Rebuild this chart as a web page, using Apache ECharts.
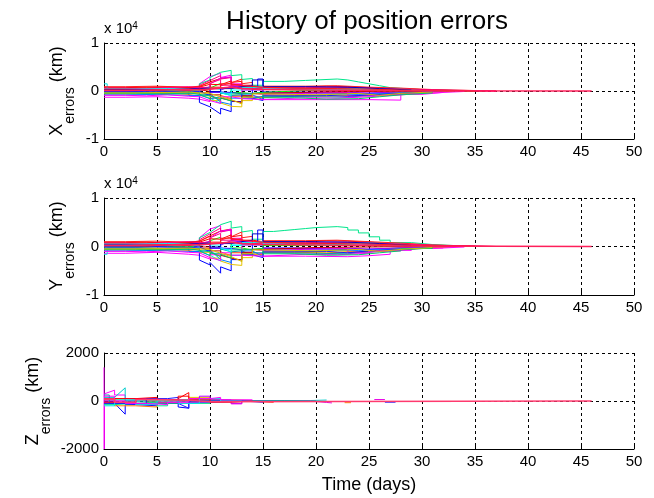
<!DOCTYPE html>
<html><head><meta charset="utf-8">
<script src="https://cdn.jsdelivr.net/npm/echarts@6/dist/echarts.min.js"></script>
<style>html,body{margin:0;padding:0;background:#fff}#c{width:654px;height:498px}</style>
</head><body><div id="c"></div>
<script>
// ---- data: each series = list of [day, value] (flat) or [day, v0, v1] (linear) segments; last entry [endDay]
const titleText = 'History of position errors';
const xTicks = [0, 5, 10, 15, 20, 25, 30, 35, 40, 45, 50];
const errTicks = [-10000, 0, 10000];   // shown as -1, 0, 1 (x 10^4)
const zTicks = [-2000, 0, 2000];
const yLabels = [['X', 'errors', ' (km)'], ['Y', 'errors', ' (km)'], ['Z', 'errors', ' (km)']];

const X01 = [[0,700],[2,800],[4,900],[6,700],[8,900],[9,1200,1900],[10,1900,2600],[11,2300,2900],[12,1800,2000],[13,1200],[14,900],[15,800],[18,1000],[21,900],[23,700],[25,500],[27,300],[30,100],[33,0],[37]];
const X02 = [[0,500],[3,600],[5,500],[7,400],[8,600],[9,1500,3000],[10,3000,3700],[11,2800,3300],[12,1500],[13,900],[15,300],[20,400],[24,200],[28,0],[35]];
const X03 = [[0,-1300],[2,-1200],[5,-1500],[8,-1700],[9,-1900,-2200],[10,-1500],[12,-1000],[14,-1300],[15,-1800],[25,-1900],[28,-700],[30,-300],[32]];
const X04 = [[0,200],[4,300],[8,700],[9,1500,2300],[10,2800,3900],[11,3800,4300],[12,3200,3400],[13,2400,2600],[14,1200],[15,2000],[17,2200],[19,2500],[22,2300],[23,1900],[24,1500],[25,1100],[26,700],[27,400],[29,200],[31,0],[34]];
const X05 = [[0,-400],[3,-500],[6,-300],[8,-900],[9,-2400,-3300],[10,-3000,-4800],[11,-3600,-4300],[12,-2200],[13,-1200],[14,500],[14.5,2500],[15,-200],[18,-400],[21,-600],[24,-300],[27,-100],[30,0],[33]];
const X06 = [[0,1500],[0.3,300],[3,200],[6,100],[8,-200],[9,-800,-1500],[10,-1200,-2600],[11,-500],[12,600],[13,400],[15,300],[18,100],[22,200],[25,400],[28,200],[31,0],[36]];
const X07 = [[0,-200],[4,-300],[8,-500],[9,-1000],[10,-2000],[11,-2500,-3200],[12,-3000,-3300],[13,-2000],[14,-1500],[15,-900],[19,-800],[22,-1000],[24,-900],[26,-400],[29,-100],[32]];
const X08 = [[0,300],[3,400],[6,200],[8,300],[9,1200,2200],[10,2000,3200],[11,2500,2800],[12,1000],[14,600],[16,500],[20,600],[23,400],[26,200],[29,100],[32,0],[37]];
const X09 = [[0,-600],[3,-500],[6,-700],[8,-400],[9,-300],[10,-1000,-1600],[11,-900,-1600],[12,-1100],[13,-1400],[15,-1000],[18,-1100],[21,-900],[24,-700],[27,-300],[30,-100],[33]];
const X10 = [[0,0],[3,-100],[6,100],[8,0],[9,400,900],[10,-300],[11,200,1000],[12,800],[13,200],[15,-300],[18,-200],[22,-400],[25,-200],[28,0],[32]];
const X11 = [[0,-800],[2,-700],[5,-900],[8,-1000],[9,-600],[10,-500,-2300],[11,-2000,-2800],[12,-1500],[13,-800],[14,-1000,-1800],[15,-600],[20,-700],[24,-500],[27,-200],[30]];
const X12 = [[0,100],[3,0],[6,-100],[8,200],[9,600],[10,1000,1600],[11,700],[12,-300],[13,-600],[14,-300],[15,100],[19,200],[23,0],[27,100],[31,0],[35]];
const X13 = [[0,900],[2,1000],[5,800],[8,1000],[9,1000,1800],[10,600],[11,1100,1700],[12,2000,2500],[13,1500,1800],[14,400],[15,1000],[19,1100],[22,800],[25,600],[28,300],[31,100],[35]];
const X14 = [[0,-300],[3,-400],[6,-500],[8,-300],[9,-800,-1600],[10,-1200],[11,-400,-900],[12,-800],[13,-900,-1500],[14,-1100],[15,-1200],[20,-1300],[23,-900],[25,-600],[28,-300],[31]];
const X15 = [[0,200],[4,400],[8,500],[9,800],[10,1500,2700],[11,2600,2900],[12,1200],[13,-500],[14,-700],[15,-500],[19,-300],[23,-1000],[25,-700],[28,-300],[30]];
const X16 = [[0,400],[3,300],[6,500],[8,300],[9,-100],[10,-800],[11,-1500,-2000],[12,-1800,-2400],[13,-1000],[14,-500],[15,-200],[20,-100],[25,0],[30]];
const X17 = [[0,-100],[3,0],[5,-200],[8,-100],[9,-300,-900],[10,-200],[11,-300],[12,-600],[13,-1500],[14,-1700,-2000],[15,-1000],[18,-900],[21,-1100],[23,-800],[25,-500],[28,-200],[31]];
const X19 = [[0,500],[1,600],[3,700],[5,600],[7,800],[9,900,1400],[10,1300],[11,1500,2100],[12,1300],[13,700],[15,500],[19,600],[22,500],[25,300],[28,100],[31,0],[36]];
const X20 = [[0,-900],[2,-1000],[4,-800],[6,-1100],[8,-1200],[9,-1500,-2000],[10,-1800,-2600],[11,-1200],[12,-1600],[13,-1800],[15,-1400],[19,-1500],[22,-1200],[25,-800],[28,-400],[31,-100],[34]];
const X21 = [[0,600],[2,500],[4,700],[6,900],[8,700],[9,800],[10,1600,2400],[11,1200],[12,900,1400],[13,600],[15,700],[19,800],[22,600],[25,400],[28,200],[32,0],[37]];
const X22 = [[0,-500],[3,-600],[6,-400],[8,-700],[9,-1000],[10,-1200,-1900],[11,-1400,-2100],[12,-600],[13,-300],[15,-1400],[18,-1700],[21,-1600],[24,-1200],[26,-800],[28,-400],[31]];
const X23 = [[0,400],[3,500],[6,400],[8,100],[9,100,700],[10,300],[11,-300,-1000],[12,200],[13,700],[14,900],[15,400],[20,500],[24,300],[27,100],[30]];
const X24 = [[0,300],[2,200],[5,400],[8,500],[9,600],[10,-100],[11,500],[12,900],[13,1100],[14,2300],[15,900],[19,800],[23,500],[26,200],[29]];
const X25 = [[0,-400],[3,-300],[6,-200],[8,-400],[9,-500],[10,-700,-1200],[11,-1300,-1800],[12,-1900,-2700],[13,-1300],[14,-600],[15,-800],[20,-500],[24,-900],[26,-500],[28,-200],[31]];
const X26 = [[0,200],[2,100],[4,300],[6,200],[8,400],[9,300],[10,800],[11,1500],[12,1100],[13,800],[15,600],[18,500],[22,400],[25,200],[28,100],[31,0],[35]];
const X18 = [[0,100],[2,200],[5,300],[8,200],[9,400],[10,600],[11,800],[12,500],[13,300],[15,200],[20,100],[25,50],[28,0],[46]];

const Y01 = [[0,800],[2,900],[4,700],[6,900],[8,1100],[9,1400,2200],[10,2200,3200],[11,2800,3600],[12,2000,2300],[13,1300],[14,1000],[15,900],[18,1200],[21,1100],[23,900],[25,600],[27,400],[30,150],[33,0],[37]];
const Y02 = [[0,600],[3,700],[5,500],[7,400],[8,700],[9,1800,3600],[10,3500,4300],[11,3000,3600],[12,1700],[13,1000],[15,400],[20,500],[24,200],[28,0],[35]];
const Y03 = [[0,-1400],[2,-1200],[5,-1600],[8,-1800],[9,-2000,-2600],[10,-1700],[12,-1200],[14,-1500],[15,-2000],[19,-2100],[23,-1900],[25,-1600],[27,-800],[29,-300],[32]];
const Y04 = [[0,300],[4,400],[8,900],[9,1800,2900],[10,3300,4500],[11,4400,5200],[12,3800,4100],[13,3000,3300],[14,1500],[15,3100],[16,3300],[17,3500],[18,3700],[19,3900],[20,4100],[22,3900],[23,3400],[24,2800],[25,2000],[26,1300],[27,800],[29,400],[31,100],[34]];
const Y05 = [[0,-500],[3,-600],[6,-400],[8,-1000],[9,-2800,-3800],[10,-3300,-5500],[11,-4200,-5000],[12,-2700],[13,-1500],[14,600],[14.5,3400],[15,-300],[18,-500],[21,-700],[24,-400],[27,-100],[30,0],[33]];
const Y06 = [[0,-1600],[0.3,-200],[3,-300],[6,-100],[8,-300],[9,-1000,-1800],[10,-1500,-3000],[11,-600],[12,500],[13,300],[15,600],[18,400],[22,800],[25,500],[28,200],[31,0],[36]];
const Y07 = [[0,-300],[4,-400],[8,-600],[9,-1200],[10,-2400],[11,-3000,-3700],[12,-3500,-3900],[13,-2300],[14,-1700],[15,-1000],[19,-900],[22,-1100],[24,-1000],[26,-500],[29,-100],[32]];
const Y08 = [[0,400],[3,500],[6,300],[8,400],[9,1400,2600],[10,2400,3800],[11,3000,3400],[12,1200],[14,700],[16,600],[20,700],[23,500],[26,300],[29,100],[32,0],[37]];
const Y09 = [[0,-700],[3,-600],[6,-800],[8,-500],[9,-400],[10,-1200,-2000],[11,-1100,-1900],[12,-1300],[13,-1700],[15,-1200],[18,-1300],[21,-1100],[24,-800],[27,-400],[30,-100],[33]];
const Y10 = [[0,0],[3,-100],[6,100],[8,0],[9,500,1100],[10,-400],[11,300,1200],[12,900],[13,300],[15,-400],[18,-300],[22,-500],[25,-300],[28,0],[32]];
const Y11 = [[0,-900],[2,-800],[5,-1000],[8,-1100],[9,-700],[10,-600,-2700],[11,-2400,-3300],[12,-1800],[13,-900],[14,-1200,-2100],[15,-700],[20,-800],[24,-600],[27,-200],[30]];
const Y12 = [[0,100],[3,0],[6,-100],[8,300],[9,700],[10,1200,1900],[11,800],[12,-300],[13,-700],[14,-400],[15,200],[19,300],[23,0],[27,100],[31,0],[35]];
const Y13 = [[0,1000],[2,1100],[5,900],[8,1100],[9,1200,2100],[10,700],[11,1300,2000],[12,2400,3000],[13,1800,2100],[14,500],[15,1200],[19,1300],[22,1000],[25,700],[28,300],[31,100],[35]];
const Y14 = [[0,-300],[3,-500],[6,-600],[8,-400],[9,-900,-1900],[10,-1400],[11,-500,-1100],[12,-900],[13,-1100,-1800],[14,-1300],[15,-1400],[20,-1500],[23,-1100],[25,-700],[28,-300],[31]];
const Y15 = [[0,300],[4,500],[8,600],[9,900],[10,1800,3200],[11,3100,3400],[12,1400],[13,-600],[14,-800],[15,-600],[19,-400],[23,-1200],[25,-800],[28,-300],[30]];
const Y16 = [[0,500],[3,400],[6,600],[8,400],[9,-100],[10,-900],[11,-1800,-2400],[12,-2100,-2800],[13,-1200],[14,-600],[15,-200],[20,-100],[25,0],[30]];
const Y17 = [[0,-100],[3,0],[5,-200],[8,-100],[9,-400,-1000],[10,-300],[11,-400],[12,-700],[13,-1700],[14,-1900,-2300],[15,-1100],[18,-1000],[21,-1300],[23,-900],[25,-600],[28,-200],[31]];
const Y19 = [[0,600],[1,700],[3,800],[5,700],[7,900],[9,1000,1600],[10,1500],[11,1700,2400],[12,1500],[13,800],[15,600],[19,700],[22,600],[25,400],[28,100],[31,0],[36]];
const Y20 = [[0,-1000],[2,-1100],[4,-900],[6,-1200],[8,-1300],[9,-1700,-2300],[10,-2000,-2900],[11,-1300],[12,-1800],[13,-2000],[15,-1600],[19,-1700],[22,-1400],[25,-900],[28,-400],[31,-100],[34]];
const Y21 = [[0,700],[2,600],[4,800],[6,1000],[8,800],[9,900],[10,1800,2700],[11,1300],[12,1000,1600],[13,700],[15,800],[19,900],[22,700],[25,500],[28,200],[32,0],[37]];
const Y22 = [[0,-600],[3,-700],[6,-500],[8,-800],[9,-1100],[10,-1400,-2100],[11,-1600,-2400],[12,-700],[13,-400],[15,-1500],[18,-1800],[21,-1700],[24,-1300],[26,-900],[28,-400],[31]];
const Y23 = [[0,500],[3,600],[6,500],[8,100],[9,100,800],[10,300],[11,-300,-1100],[12,200],[13,800],[14,1000],[15,500],[20,600],[24,300],[27,100],[30]];
const Y24 = [[0,300],[2,200],[5,500],[8,600],[9,700],[10,-100],[11,600],[12,1000],[13,1300],[14,2600],[15,1000],[19,900],[23,600],[26,200],[29]];
const Y25 = [[0,-500],[3,-400],[6,-300],[8,-500],[9,-600],[10,-800,-1400],[11,-1500,-2100],[12,-2200,-3100],[13,-1500],[14,-700],[15,-900],[20,-600],[24,-1000],[26,-600],[28,-200],[31]];
const Y26 = [[0,200],[2,100],[4,300],[6,200],[8,500],[9,400],[10,900],[11,1700],[12,1300],[13,900],[15,700],[18,600],[22,500],[25,300],[28,100],[31,0],[35]];
const Y18 = [[0,200],[2,300],[5,400],[8,300],[9,500],[10,700],[11,900],[12,600],[13,400],[15,300],[20,200],[25,100],[28,0],[46]];

const Z01 = [[0,1400],[0.02,-2000],[0.04,300,450],[1,250],[2,100],[4,0],[8]];
const Z02 = [[0,0],[1,-100,-550],[2,-150],[3,-200],[5,-100],[7,-250,-300],[8,-50],[10,0],[15]];
const Z03 = [[0,150],[1,200,550],[2,0],[4,-100],[6,50],[9,0],[14,20],[19.5,40],[21]];
const Z04 = [[0,100],[2,50],[4,-50],[7,100,350],[8,50],[10,0],[13,-50],[16]];
const Z05 = [[0,-100],[1,-200],[3,-250],[5,-100],[8,0],[12,-30],[16,null],[22.7,-70],[23.3]];
const Z06 = [[0,-150],[1,-100],[3,-50],[5,-200],[6,50],[8,-100],[10,0],[14]];
const Z07 = [[0,50],[2,-100],[4,0],[8,150],[10,50],[12,0],[15]];
const Z08 = [[0,-50],[2,100],[4,50],[7,0],[9,200],[10,50],[12,-100],[13,0],[16]];
const Z09 = [[0,0],[3,-150],[5,-50],[8,0],[12,-120],[13,0],[19.5,-60],[21,-80],[21.5,null],[25.5,60],[26.5]];
const Z10 = [[0,250],[0.5,-100],[2,0],[5,-100],[7,0],[11,20],[17,0],[20]];
const Z11 = [[0,-100],[4,100],[6,150],[7,-100,-300],[8,0],[10,0],[13,-50],[15,null],[26.5,-50],[27.5]];
const Z13 = [[0,-50],[1,100],[3,150],[5,50],[7,200],[8,100],[10,-50],[12,0],[14]];
const Z14 = [[0,-200],[1,50],[3,-150],[5,0],[7,-100],[9,100],[11,0],[13]];
const Z15 = [[0,200],[1,0],[2,-100],[4,-150],[6,-50],[8,100],[10,150],[11,50],[14]];
const Z12 = [[0,80],[1,-50],[3,60],[5,30],[8,0],[9,-30],[10,0],[46]];

const xSeries = [X01,X02,X03,X04,X05,X06,X07,X08,X09,X10,X11,X12,X13,X14,X15,X16,X17,X19,X20,X21,X22,X23,X24,X25,X26,X18];
const ySeries = [Y01,Y02,Y03,Y04,Y05,Y06,Y07,Y08,Y09,Y10,Y11,Y12,Y13,Y14,Y15,Y16,Y17,Y19,Y20,Y21,Y22,Y23,Y24,Y25,Y26,Y18];
const zSeries = [Z01,Z02,Z03,Z04,Z05,Z06,Z07,Z08,Z09,Z10,Z11,Z13,Z14,Z15,Z12];

// ---- styles
const xyColors = ['#ff0000','#ff00ff','#ff00ff','#00e68c','#0000ff','#00e6e6','#e6c300','#ff0080','#ff8000','#9900ff','#0080ff','#00ff00','#ff2020','#00a3a3','#e600e6','#cc0000','#1a1aff',
                  '#ff0000','#ff00ff','#ff0080','#00cc66','#00ffff','#0000cc','#d4c000','#ff1a1a','#ff1f5a'];
const zColors = ['#ff00ff','#0000ff','#00cccc','#ff0000','#ff8000','#00e68c','#e6c300','#b000ff','#e600e6','#00a3a3','#1a1aff','#ff0000','#00e6e6','#ff00ff','#ff3a6e'];
const FONT = 'Liberation Sans, Arial, sans-serif';

function toPoints(segs) {
  const pts = [];
  for (let i = 0; i < segs.length - 1; i++) {
    const s = segs[i], t1 = segs[i + 1][0];
    const v0 = s[1], v1 = s.length > 2 ? s[2] : s[1];
    pts.push([s[0], v0]);
    pts.push([t1, v1]);
  }
  return pts;
}

const chart = echarts.init(document.getElementById('c'), null, {renderer: 'canvas'});
const grids = [
  {left: 104, right: 20, top: 43, height: 96},
  {left: 104, right: 20, top: 198, height: 97},
  {left: 104, right: 20, top: 353, height: 96}
];
function xAx(i) {
  const ax = {
    type: 'value', gridIndex: i, min: xTicks[0], max: xTicks[xTicks.length - 1], interval: xTicks[1] - xTicks[0],
    axisLine: {show: true, onZero: false, lineStyle: {color: '#000', width: 1}},
    axisTick: {show: true, inside: true, length: 4, lineStyle: {color: '#000'}},
    axisLabel: {color: '#000', fontSize: 15, fontFamily: FONT, margin: 5},
    splitLine: {show: true, lineStyle: {color: '#000', width: 1, type: [3, 3]}}
  };
  if (i === 2) {
    ax.name = 'Time (days)'; ax.nameLocation = 'middle'; ax.nameGap = 27;
    ax.nameTextStyle = {color: '#000', fontSize: 18, fontFamily: FONT};
  }
  return ax;
}
function yAx(i, ticks, fmt) {
  return {
    type: 'value', gridIndex: i, min: ticks[0], max: ticks[ticks.length - 1], interval: ticks[1] - ticks[0],
    axisLine: {show: true, onZero: false, lineStyle: {color: '#000', width: 1}},
    axisTick: {show: true, inside: true, length: 4, lineStyle: {color: '#000'}},
    axisLabel: {color: '#000', fontSize: 15, fontFamily: FONT, margin: 5, formatter: fmt},
    splitLine: {show: true, lineStyle: {color: '#000', width: 1, type: [3, 3]}}
  };
}
const series = [];
function add(list, colors, idx) {
  list.forEach((segs, k) => series.push({
    type: 'line', xAxisIndex: idx, yAxisIndex: idx, data: toPoints(segs), showSymbol: false, symbol: 'none',
    connectNulls: false, silent: true,
    lineStyle: {width: k === list.length - 1 ? 1.6 : 1, color: colors[k % colors.length]}, z: 3
  }));
}
add(xSeries, xyColors, 0);
add(ySeries, xyColors, 1);
add(zSeries, zColors, 2);

// rotated y-axis titles with a real subscript, built from text pieces
const ctx = document.createElement('canvas').getContext('2d');
function tw(t, size) { ctx.font = size + 'px ' + FONT; return ctx.measureText(t).width; }
const MAIN = 18, SUB = 14;
function yTitle(parts, baseX, centerY) {
  const w0 = tw(parts[0], MAIN), w1 = tw(parts[1], SUB), w2 = tw(parts[2], MAIN);
  const x0 = -(w0 + w1 + w2) / 2;
  const piece = (t, x, y, size) => ({type: 'text', x: x, y: y,
    style: {text: t, font: size + 'px ' + FONT, fill: '#000', textAlign: 'left', textVerticalAlign: 'bottom'}});
  return {type: 'group', x: baseX, y: centerY, rotation: Math.PI / 2, children: [
    piece(parts[0], x0, 4, MAIN),
    piece(parts[1], x0 + w0, 15, SUB),
    piece(parts[2], x0 + w0 + w1, 4, MAIN)
  ]};
}

const sci = v => String(v / 10000);
const expRich = {a: {fontSize: 15, fontFamily: FONT, verticalAlign: 'bottom', lineHeight: 15, padding: [6,0,0,0]}, p: {fontSize: 10, fontFamily: FONT, verticalAlign: 'top', lineHeight: 10}};
chart.setOption({
  animation: false,
  backgroundColor: '#fff',
  grid: grids,
  xAxis: [xAx(0), xAx(1), xAx(2)],
  yAxis: [yAx(0, errTicks, sci), yAx(1, errTicks, sci), yAx(2, zTicks, v => String(v))],
  series: series,
  graphic: [
    {type: 'text', x: 367, y: 22, style: {text: titleText, font: '26px ' + FONT, fill: '#000', textAlign: 'center', textVerticalAlign: 'middle'}},
    {type: 'text', x: 104, y: 21, style: {text: '{a|x 10}{p|4}', fill: '#000', rich: expRich}},
    {type: 'text', x: 104, y: 176, style: {text: '{a|x 10}{p|4}', fill: '#000', rich: expRich}},
    yTitle(yLabels[0], 62, 91),
    yTitle(yLabels[1], 62, 246),
    yTitle(yLabels[2], 38, 401)
  ]
});
</script></body></html>
